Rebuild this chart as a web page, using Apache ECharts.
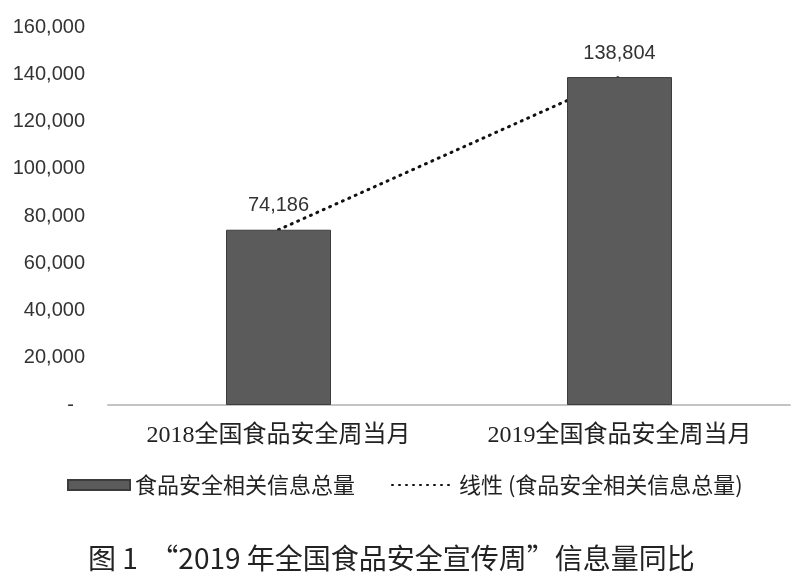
<!DOCTYPE html>
<html>
<head>
<meta charset="utf-8">
<title>2019年全国食品安全宣传周信息量同比</title>
<script src="https://cdn.jsdelivr.net/npm/echarts@6/dist/echarts.min.js"></script>
<style>
  html, body { margin: 0; padding: 0; background: #fff; }
  #chart { width: 800px; height: 588px; }
</style>
</head>
<body>
<div id="chart"></div>
<script>
// 数据
const categories = ["2018全国食品安全周当月", "2019全国食品安全周当月"];
const totalValues = [74186, 138804];
// 两点的线性趋势线，正好经过两个柱顶
const trendValues = [74186, 138804];
const yTicks = [0, 20000, 40000, 60000, 80000, 100000, 120000, 140000, 160000];

const barName = "食品安全相关信息总量";
const trendName = "线性 (食品安全相关信息总量)";

const numFmt = (v) => (v === 0 ? "-  " : v.toLocaleString("en-US"));

const chart = echarts.init(document.getElementById("chart"));

chart.setOption({
  backgroundColor: "#fff",
  animation: false,
  title: {
    text: "图 1  “2019 年全国食品安全宣传周”信息量同比",
    left: 88,
    top: 544,
    padding: 0,
    textStyle: {
      fontFamily: "'Noto Sans CJK SC'",
      fontSize: 28,
      fontWeight: "normal",
      color: "#222",
    },
  },
  grid: {
    left: 108,
    right: 10,
    top: 27,
    bottom: 183,
  },
  legend: {
    left: 67,
    top: 474,
    padding: 0,
    itemWidth: 62,
    itemHeight: 10,
    itemGap: 36,
    textStyle: {
      fontFamily: "'Noto Sans CJK SC'",
      fontSize: 22,
      color: "#222",
    },
    data: [
      { name: barName, icon: "rect" },
      { name: trendName, itemStyle: { opacity: 0 } },
    ],
  },
  xAxis: {
    type: "category",
    data: categories,
    axisLine: { lineStyle: { color: "#c4c4c4", width: 2 } },
    axisTick: { show: false },
    axisLabel: {
      interval: 0,
      margin: 19,
      fontFamily: "'Liberation Serif', 'Noto Sans CJK SC'",
      fontSize: 24,
      color: "#222",
    },
  },
  yAxis: {
    type: "value",
    min: yTicks[0],
    max: yTicks[yTicks.length - 1],
    interval: yTicks[1] - yTicks[0],
    axisLine: { show: false },
    axisTick: { show: false },
    splitLine: { show: false },
    axisLabel: {
      margin: 23,
      fontFamily: "'Liberation Sans'",
      fontSize: 20,
      color: "#333",
      formatter: numFmt,
    },
  },
  series: [
    {
      name: barName,
      type: "bar",
      data: totalValues,
      barWidth: 105,
      z: 3,
      itemStyle: {
        color: "#5b5b5b",
        borderColor: "#3c3c3c",
        borderWidth: 1,
      },
      label: {
        show: true,
        position: "top",
        distance: 14,
        fontFamily: "'Liberation Sans'",
        fontSize: 20,
        color: "#333",
        formatter: (p) => numFmt(p.value),
      },
    },
    {
      name: trendName,
      type: "line",
      data: trendValues,
      symbol: "none",
      z: 1,
      itemStyle: { color: "#111" },
      lineStyle: {
        color: "#111",
        width: 3,
        type: [1, 6],
        cap: "round",
      },
    },
  ],
});

window.addEventListener("resize", () => chart.resize());
</script>
</body>
</html>
